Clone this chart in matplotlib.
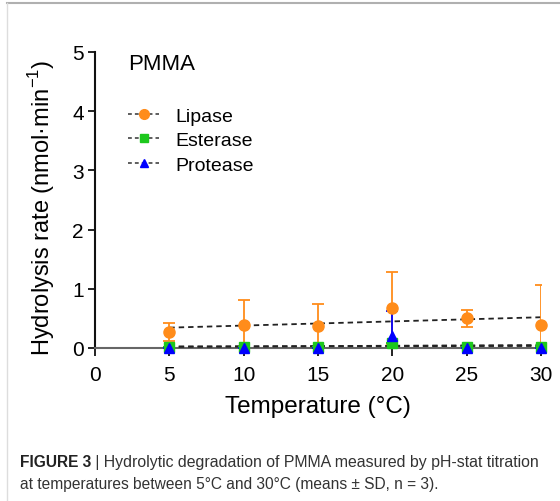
import numpy as np
import matplotlib
matplotlib.use("Agg")
import matplotlib.pyplot as plt
from matplotlib.lines import Line2D

plt.rcParams['font.family'] = ['Liberation Sans', 'DejaVu Sans']

temperature = [5, 10, 15, 20, 25, 30]
lipase_mean = [0.27, 0.39, 0.37, 0.67, 0.50, 0.39]
lipase_sd = [0.15, 0.42, 0.37, 0.61, 0.15, 0.67]
esterase_mean = [0.02, 0.02, 0.02, 0.08, 0.02, 0.02]
esterase_sd = [0.0, 0.0, 0.0, 0.0, 0.0, 0.0]
protease_mean = [0.0, 0.0, 0.0, 0.21, 0.0, 0.0]
protease_sd = [0.0, 0.0, 0.0, 0.41, 0.0, 0.0]
series_names = ['Lipase', 'Esterase', 'Protease']
x_ticks = [0, 5, 10, 15, 20, 25, 30]
y_ticks = [0, 1, 2, 3, 4, 5]

W, H = 560, 502
fig = plt.figure(figsize=(W / 100, H / 100), dpi=100)
ax = fig.add_axes([95 / W, 1 - 349 / H, (541 - 95) / W, (349 - 53) / H])

colors = ['#FF8C1A', '#1DC81D', '#0000FF']
markers = ['o', 's', '^']
msizes = [8, 7, 7]
data = [(lipase_mean, lipase_sd), (esterase_mean, esterase_sd), (protease_mean, protease_sd)]

x = np.array(temperature, dtype=float)
for i, (m, s) in enumerate(data):
    m = np.array(m); s = np.array(s)
    # linear regression line
    k, b = np.polyfit(x, m, 1)
    xf = np.array([x.min(), x.max()])
    ax.plot(xf, k * xf + b, ls=(0, (3.0, 2.2)), color='#222222', lw=1.3, zorder=2 + i)
for i, (m, s) in enumerate(data):
    m = np.array(m); s = np.array(s)
    ax.errorbar(x, m, yerr=s, fmt='none', ecolor=colors[i], elinewidth=1.3,
                capsize=4, capthick=1.3, zorder=5 + i)
    ax.plot(x, m, ls='none', marker=markers[i], ms=msizes[i], color=colors[i],
            mec=colors[i], zorder=8 + i, clip_on=False)

ax.set_xlim(0, 30)
ax.set_ylim(0, 5)
ax.set_xticks(x_ticks)
ax.set_yticks(y_ticks)
for sp in ['top', 'right']:
    ax.spines[sp].set_visible(False)
ax.spines['left'].set_linewidth(1.5)
ax.spines['left'].set_color('#111111')
ax.spines['bottom'].set_linewidth(1.5)
ax.spines['bottom'].set_color('#666666')
ax.tick_params(axis='y', length=5, width=1.3, pad=3, labelsize=15, color='#111111')
ax.tick_params(axis='x', length=6, width=1.3, pad=6, labelsize=15, color='#111111')
ax.set_xlabel('Temperature (°C)', fontsize=17.5, labelpad=8)
ax.set_ylabel('Hydrolysis rate (nmol·min$^{\\mathregular{-1}}$)', fontsize=17, labelpad=11)
ax.yaxis.label.set_y(0.476)

handles = [Line2D([], [], ls=(0, (2.5, 2)), color='#333333', lw=1.1, marker=markers[i],
                  ms=msizes[i] - 1, mfc=colors[i], mec=colors[i]) for i in range(3)]
leg = ax.legend(handles, series_names, loc='upper left', frameon=False, fontsize=14,
                bbox_to_anchor=(128 / W, 1 - 108 / H), bbox_transform=fig.transFigure,
                handlelength=1.6, handletextpad=0.85, labelspacing=0.36, borderpad=0,
                borderaxespad=0)

fig.text(128 / W, 1 - 64 / H, 'PMMA', fontsize=16, va='center', ha='left')

# border lines
fig.add_artist(Line2D([7 / W, 1], [1 - 4 / H, 1 - 4 / H], color='#b0b0b0', lw=1.5,
                      transform=fig.transFigure))
fig.add_artist(Line2D([7 / W, 7 / W], [0, 1 - 4 / H], color='#dddddd', lw=1.0,
                      transform=fig.transFigure))

t1 = fig.text(20 / W, 1 - 463 / H, 'FIGURE 3', fontsize=11.2, fontweight='bold',
              color='#222222', va='center', ha='left')
ax.annotate(' | Hydrolytic degradation of PMMA measured by pH-stat titration',
            xy=(1, 0.5), xycoords=t1, va='center', ha='left', fontsize=11.4,
            color='#333333', annotation_clip=False)
fig.text(20 / W, 1 - 485 / H,
         'at temperatures between 5°C and 30°C (means ± SD, n = 3).',
         fontsize=11.2, color='#333333', va='center', ha='left')

fig.savefig('out.png', dpi=100)
